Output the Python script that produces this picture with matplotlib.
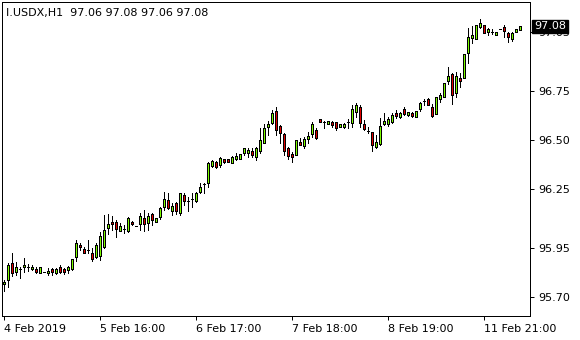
import matplotlib
matplotlib.use("Agg")
import matplotlib.pyplot as plt
import matplotlib.transforms as mtransforms

# ── data (hourly bars) ───────────────────────────────────────────────────────

symbol = "I.USDX,H1"

opens = [
    95.767, 95.788, 95.874, 95.829, 95.844, 95.854, 95.854, 95.844, 95.844, 95.823,
    95.829, 95.823, 95.844, 95.823, 95.854, 95.844, 95.839, 95.844, 95.905, 95.966,
    95.946, 95.941, 95.925, 95.905, 95.910, 95.956, 96.052, 96.083, 96.083, 96.037,
    96.047, 96.037, 96.083, 96.063, 96.073, 96.103, 96.078, 96.124, 96.083, 96.108,
    96.159, 96.195, 96.139, 96.180, 96.129, 96.220, 96.190, 96.200, 96.190, 96.236,
    96.276, 96.282, 96.368, 96.389, 96.373, 96.404, 96.404, 96.384, 96.404, 96.404,
    96.434, 96.434, 96.445, 96.414, 96.445, 96.485, 96.567, 96.587, 96.648, 96.572,
    96.531, 96.460, 96.429, 96.424, 96.490, 96.470, 96.506, 96.531, 96.551, 96.607,
    96.592, 96.582, 96.592, 96.592, 96.567, 96.567, 96.592, 96.587, 96.643, 96.668,
    96.582, 96.546, 96.541, 96.465, 96.480, 96.582, 96.582, 96.592, 96.638, 96.618,
    96.658, 96.628, 96.638, 96.618, 96.658, 96.699, 96.709, 96.668, 96.633, 96.709,
    96.719, 96.801, 96.836, 96.740, 96.816, 96.816, 96.943, 97.020, 97.015, 97.076,
    97.086, 97.050, 97.050, 97.035, 97.065, 97.076, 97.045, 97.015, 97.050, 97.060,
]
highs = [
    95.788, 95.874, 95.925, 95.879, 95.854, 95.900, 95.869, 95.864, 95.854, 95.854,
    95.829, 95.849, 95.849, 95.849, 95.864, 95.849, 95.859, 95.895, 95.991, 95.976,
    95.956, 95.991, 95.951, 95.976, 96.032, 96.119, 96.124, 96.114, 96.093, 96.078,
    96.068, 96.108, 96.088, 96.063, 96.129, 96.144, 96.129, 96.129, 96.103, 96.159,
    96.236, 96.231, 96.180, 96.185, 96.231, 96.231, 96.210, 96.231, 96.236, 96.282,
    96.282, 96.389, 96.399, 96.394, 96.414, 96.404, 96.404, 96.419, 96.434, 96.429,
    96.460, 96.460, 96.460, 96.465, 96.562, 96.582, 96.597, 96.653, 96.668, 96.577,
    96.536, 96.465, 96.439, 96.501, 96.511, 96.516, 96.541, 96.592, 96.562, 96.607,
    96.597, 96.597, 96.597, 96.592, 96.582, 96.587, 96.607, 96.679, 96.689, 96.679,
    96.602, 96.567, 96.541, 96.526, 96.613, 96.638, 96.618, 96.638, 96.653, 96.643,
    96.668, 96.643, 96.643, 96.648, 96.694, 96.709, 96.714, 96.684, 96.719, 96.740,
    96.791, 96.872, 96.842, 96.847, 96.842, 96.938, 97.071, 97.081, 97.086, 97.116,
    97.086, 97.071, 97.065, 97.050, 97.065, 97.086, 97.050, 97.050, 97.065, 97.080,
]
lows = [
    95.732, 95.752, 95.808, 95.813, 95.798, 95.829, 95.834, 95.839, 95.823, 95.823,
    95.829, 95.813, 95.813, 95.818, 95.823, 95.818, 95.823, 95.839, 95.885, 95.941,
    95.925, 95.925, 95.885, 95.900, 95.890, 95.951, 96.022, 96.042, 96.007, 96.037,
    96.027, 96.032, 96.068, 96.063, 96.042, 96.037, 96.042, 96.068, 96.083, 96.098,
    96.144, 96.149, 96.119, 96.124, 96.119, 96.170, 96.139, 96.159, 96.185, 96.231,
    96.231, 96.261, 96.363, 96.358, 96.363, 96.384, 96.389, 96.384, 96.399, 96.404,
    96.424, 96.414, 96.414, 96.399, 96.434, 96.485, 96.526, 96.582, 96.526, 96.485,
    96.424, 96.404, 96.389, 96.424, 96.475, 96.460, 96.485, 96.516, 96.506, 96.592,
    96.562, 96.582, 96.567, 96.551, 96.567, 96.562, 96.562, 96.567, 96.618, 96.567,
    96.551, 96.536, 96.445, 96.460, 96.475, 96.577, 96.572, 96.587, 96.613, 96.613,
    96.628, 96.623, 96.618, 96.618, 96.648, 96.679, 96.679, 96.618, 96.633, 96.694,
    96.719, 96.786, 96.684, 96.719, 96.770, 96.816, 96.892, 96.994, 97.015, 97.071,
    97.045, 97.035, 97.040, 97.035, 97.065, 97.025, 96.999, 97.004, 97.050, 97.060,
]
closes = [
    95.778, 95.864, 95.823, 95.854, 95.844, 95.864, 95.854, 95.854, 95.829, 95.854,
    95.829, 95.834, 95.829, 95.844, 95.829, 95.829, 95.854, 95.895, 95.976, 95.956,
    95.925, 95.941, 95.895, 95.966, 96.012, 96.042, 96.073, 96.073, 96.047, 96.063,
    96.047, 96.103, 96.073, 96.063, 96.114, 96.073, 96.114, 96.093, 96.103, 96.154,
    96.200, 96.154, 96.164, 96.139, 96.231, 96.190, 96.190, 96.200, 96.231, 96.261,
    96.276, 96.384, 96.394, 96.363, 96.409, 96.389, 96.389, 96.414, 96.419, 96.429,
    96.460, 96.450, 96.424, 96.460, 96.501, 96.562, 96.582, 96.638, 96.551, 96.536,
    96.445, 96.419, 96.414, 96.501, 96.475, 96.506, 96.521, 96.582, 96.511, 96.592,
    96.592, 96.597, 96.577, 96.562, 96.582, 96.582, 96.592, 96.658, 96.679, 96.587,
    96.557, 96.546, 96.475, 96.490, 96.572, 96.597, 96.607, 96.628, 96.623, 96.638,
    96.633, 96.643, 96.623, 96.648, 96.689, 96.699, 96.679, 96.623, 96.719, 96.730,
    96.791, 96.826, 96.730, 96.826, 96.801, 96.938, 97.025, 97.035, 97.086, 97.096,
    97.045, 97.065, 97.050, 97.050, 97.065, 97.055, 97.025, 97.045, 97.065, 97.080,
]

time_labels = ["4 Feb 2019", "5 Feb 16:00", "6 Feb 17:00",
               "7 Feb 18:00", "8 Feb 19:00", "11 Feb 21:00"]
label_bars = [0, 24, 48, 72, 96, 120]
price_ticks = [95.70, 95.95, 96.25, 96.50, 96.75, 97.05]

BULL = "#7CFC00"
BEAR = "#E00000"
PX = 0.72  # one pixel in points at dpi 100

# ── figure ────────────────────────────────────────────────────────────────────

fig = plt.figure(figsize=(5.8, 3.4), dpi=100)
ax = fig.add_axes([2 / 580, 24 / 340, 528 / 580, 314 / 340])

idx = list(range(len(opens)))
ax.vlines(idx, lows, highs, color="black", lw=PX, antialiased=False, zorder=2)

bottoms = [min(o, c) for o, c in zip(opens, closes)]
heights = [abs(c - o) for o, c in zip(opens, closes)]
colors = [BULL if c >= o else BEAR for o, c in zip(opens, closes)]
ax.bar(idx, heights, bottom=bottoms, width=0.5, color=colors,
       edgecolor="black", linewidth=PX, antialiased=False, zorder=3)

ax.set_xlim((2 - 3.5) / 4, (530 - 3.5) / 4)
ax.set_ylim(95.605, 97.203)

for sp in ax.spines.values():
    sp.set_color("black")
    sp.set_linewidth(PX)

ax.yaxis.tick_right()
ax.set_yticks(price_ticks)
ax.set_yticklabels([f"{p:.2f}" for p in price_ticks])
ax.set_xticks(label_bars)
ax.set_xticklabels(time_labels)
for lbl in ax.get_xticklabels():
    lbl.set_ha("left")
ax.tick_params(direction="out", length=3, width=PX, labelsize=8,
               colors="black", pad=3)

# current price box on the right axis
trans = mtransforms.blended_transform_factory(ax.transAxes, ax.transData)
ax.text(1 + 4 / 528, closes[-1], f"{closes[-1]:.2f}", transform=trans,
        ha="left", va="center", fontsize=8, color="white", zorder=10,
        bbox=dict(boxstyle="square,pad=0.15", fc="black", ec="black"))

fig.text(6 / 580, 1 - 13 / 340,
         f"{symbol}  {opens[-1]:.2f} {highs[-1]:.2f} {lows[-1]:.2f} {closes[-1]:.2f}",
         ha="left", va="center", fontsize=8, color="black")

fig.savefig("out.png", dpi=100)
